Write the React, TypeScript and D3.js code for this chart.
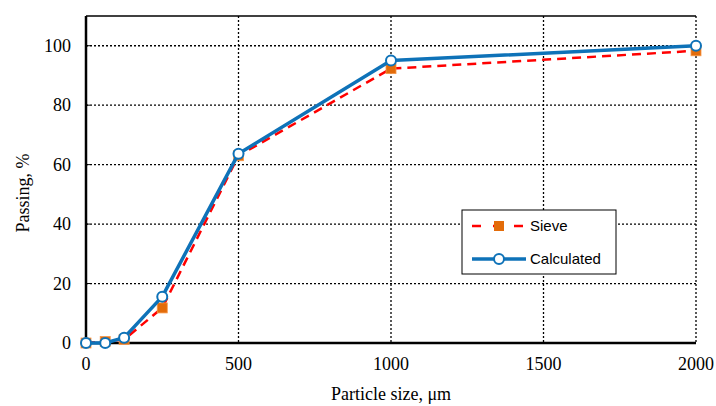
import React from "react";
import * as d3 from "d3";

const sizes = [0, 63, 125, 250, 500, 1000, 2000];
const sieve = [0, 0.5, 1.2, 11.8, 63, 92.3, 98.3];
const calculated = [0, 0, 1.8, 15.6, 63.7, 95, 100];
const xTicks = [0, 500, 1000, 1500, 2000];
const yTicks = [0, 20, 40, 60, 80, 100];

const W = 716, H = 406;
const L = 86, R = 696, T = 16, B = 343;

export default function App() {
  const x = d3.scaleLinear().domain([0, 2000]).range([L, R]);
  const y = d3.scaleLinear().domain([0, 110]).range([B, T]);
  const line = d3.line<number>().x((_, i) => x(sizes[i])).y((d) => y(d));
  const serif = "'Times New Roman', 'Liberation Serif', serif";
  const sans = "'Liberation Sans', Arial, sans-serif";
  const blue = "#0E72B8";
  const orange = "#E36C0A";
  const serifStyle = { fontFamily: serif };
  return (
    <svg width={W} height={H} style={{ position: "absolute", left: 0, top: 0, background: "#fff" }}>
      <rect x={0} y={0} width={W} height={H} fill="#fff" />
      {yTicks.filter((t) => t > 0).map((t) => (
        <line key={"gy" + t} x1={L} x2={R} y1={y(t)} y2={y(t)} stroke="#000" strokeWidth={1.3} strokeDasharray="2,2" />
      ))}
      {xTicks.filter((t) => t > 0).map((t) => (
        <line key={"gx" + t} x1={x(t)} x2={x(t)} y1={T} y2={B} stroke="#000" strokeWidth={1.3} strokeDasharray="2,2" />
      ))}
      <line x1={L} x2={R} y1={T} y2={T} stroke="#000" strokeWidth={1.5} />
      <line x1={L} x2={L} y1={T} y2={B} stroke="#000" strokeWidth={2.5} />
      <line x1={L} x2={R} y1={B} y2={B} stroke="#000" strokeWidth={2.5} />
      {yTicks.map((t) => (
        <line key={"ty" + t} x1={L} x2={L + 4} y1={y(t)} y2={y(t)} stroke="#000" strokeWidth={1} />
      ))}
      {yTicks.map((t) => (
        <text key={"ly" + t} x={71} y={y(t) + 6} textAnchor="end" style={serifStyle} fontSize={18} fill="#000">{String(t)}</text>
      ))}
      {xTicks.map((t) => (
        <text key={"lx" + t} x={x(t)} y={370} textAnchor="middle" style={serifStyle} fontSize={18} fill="#000">{String(t)}</text>
      ))}
      <text x={391} y={400} textAnchor="middle" style={serifStyle} fontSize={18} fill="#000">Particle size, μm</text>
      <text transform="translate(29,193) rotate(-90)" textAnchor="middle" style={serifStyle} fontSize={18} fill="#000">Passing, %</text>
      <path d={line(sieve) || ""} fill="none" stroke="#FF0000" strokeWidth={2.5} strokeDasharray="9,6" />
      {sieve.map((v, i) => (
        <rect key={"s" + i} x={x(sizes[i]) - 5} y={y(v) - 5} width={10} height={10} fill={orange} stroke="#F79646" strokeWidth={0.8} />
      ))}
      <path d={line(calculated) || ""} fill="none" stroke={blue} strokeWidth={3.5} strokeLinejoin="round" />
      {calculated.map((v, i) => (
        <circle key={"c" + i} cx={x(sizes[i])} cy={y(v)} r={5} fill="#fff" stroke={blue} strokeWidth={2} />
      ))}
      <rect x={462} y={210} width={154} height={64} fill="#fff" stroke="#000" strokeWidth={1} />
      <line x1={472} x2={526} y1={226} y2={226} stroke="#FF0000" strokeWidth={2.5} strokeDasharray="9,12" />
      <rect x={494} y={221} width={10} height={10} fill={orange} />
      <text x={530} y={231} style={{ fontFamily: sans }} fontSize={15} fill="#000">Sieve</text>
      <line x1={472} x2={526} y1={259} y2={259} stroke={blue} strokeWidth={3.5} />
      <circle cx={499} cy={259} r={5} fill="#fff" stroke={blue} strokeWidth={2} />
      <text x={530} y={264} style={{ fontFamily: sans }} fontSize={15} fill="#000">Calculated</text>
    </svg>
  );
}
